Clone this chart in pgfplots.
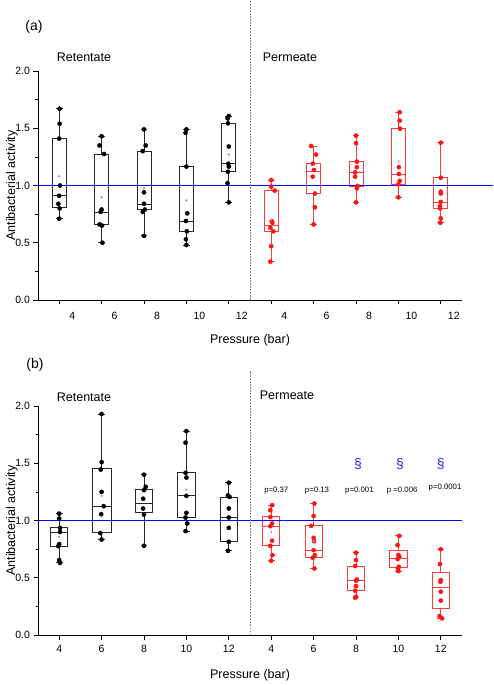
\documentclass[border=0pt]{standalone}
\usepackage{fontspec}
\setmainfont{Liberation Sans}
\usepackage{pgfplots}
\pgfplotsset{compat=1.18}
\usepgfplotslibrary{statistics}
\definecolor{myblue}{RGB}{40,40,235}
\definecolor{myred}{RGB}{255,20,20}
\definecolor{boxred}{RGB}{255,60,60}
\definecolor{boxblack}{RGB}{40,40,40}
\definecolor{meangray}{RGB}{150,150,150}
\definecolor{meanred}{RGB}{255,140,140}

\newcommand{\bx}[8]{\addplot[#1, line width=0.8pt, solid, mark=none,
  boxplot prepared={draw direction=y, draw position=#2, lower whisker=#3, lower quartile=#4,
  median=#5, upper quartile=#6, upper whisker=#7, box extend=#8, whisker extend=0.16}]
  coordinates {};}

\pgfplotsset{
  panel/.style={
    scale only axis, width=424pt, height=229pt,
    xmin=-0.5, xmax=9.5, ymin=0, ymax=2,
    axis x line*=bottom, axis y line*=left,
    axis line style={line width=0.8pt, -},
    xtick={0,...,9}, xticklabels={4,6,8,10,12,4,6,8,10,12},
    ytick={0,0.5,...,2}, minor y tick num=1,
    tick align=outside, major tick length=4.5pt, minor tick length=2.5pt,
    tick style={line width=0.7pt, black},
    y tick label style={/pgf/number format/fixed, /pgf/number format/fixed zerofill, /pgf/number format/precision=1},
    /pgf/number format/assume math mode=true,
    tick label style={font=\fontsize{10.5}{12}\selectfont},
    ylabel={Antibacterial activity}, xlabel={Pressure (bar)},
    every axis y label/.style={at={(axis description cs:-0.0613,0.5)}, rotate=90, anchor=center, font=\fontsize{12.5}{14}\selectfont},
    every axis x label/.style={at={(axis description cs:0.5,0)}, anchor=center, yshift=-40pt, font=\fontsize{12.5}{14}\selectfont},
    clip=false,
  },
  blk/.style={only marks, mark=*, mark size=2.1pt, black},
  rd/.style={only marks, mark=*, mark size=2.1pt, myred},
  mn/.style={only marks, mark=*, mark size=0.9pt, #1},
  refline/.style={color=blue, draw=blue, line width=1.5pt, mark=none, solid},
}

\begin{document}
\begin{tikzpicture}
\path[use as bounding box] (0pt,0pt) rectangle (494pt,685pt);

% ---------------- Panel (a)
\begin{axis}[panel, at={(38pt,385pt)}, anchor=south west,
  xticklabel style={xshift=13pt, yshift=-4pt}]
\bx{boxblack}{0}{0.713}{0.806}{0.91}{1.41}{1.674}{0.33}
\bx{boxblack}{1}{0.50}{0.66}{0.766}{1.275}{1.43}{0.33}
\bx{boxblack}{2}{0.56}{0.79}{0.838}{1.295}{1.49}{0.33}
\bx{boxblack}{3}{0.48}{0.60}{0.69}{1.165}{1.49}{0.33}
\bx{boxblack}{4}{0.853}{1.12}{1.194}{1.543}{1.607}{0.33}
\bx{boxred}{5}{0.335}{0.597}{0.649}{0.955}{1.048}{0.33}
\bx{boxred}{6}{0.66}{0.93}{1.12}{1.19}{1.345}{0.33}
\bx{boxred}{7}{0.853}{0.996}{1.115}{1.208}{1.435}{0.33}
\bx{boxred}{8}{0.897}{1.01}{1.10}{1.496}{1.64}{0.33}
\bx{boxred}{9}{0.675}{0.80}{0.856}{1.068}{1.374}{0.33}
\addplot[refline] table {
x y
-0.5 1
10.24 1
};
\addplot[blk] coordinates {
 (0.01,1.67) (0.01,1.54) (0,1.41) (0.02,1.00) (0,0.91) (-0.02,0.84) (0.01,0.80) (0,0.71)
 (1,1.43) (0.95,1.35) (1.06,1.275) (1,0.79) (0.98,0.77) (0.95,0.66) (1.01,0.65) (1.02,0.50)
 (2,1.49) (2.04,1.35) (1.97,1.30) (2,0.94) (2,0.84) (2.02,0.79) (1.97,0.77) (2,0.56)
 (3,1.49) (2.98,1.46) (3,1.165) (3.02,0.757) (2.99,0.69) (3.01,0.60) (2.99,0.53) (3,0.48)
 (4,1.607) (3.97,1.587) (3.98,1.543) (4,1.34) (3.99,1.19) (4,1.165) (3.98,1.12) (3.97,1.02) (4,0.853)
};
\addplot[mn=meangray] coordinates {(0,1.08) (1,0.897) (2,0.975) (3,0.87) (4,1.27)};
\addplot[rd] coordinates {
 (5,1.048) (5,0.99) (5.08,0.955) (5.01,0.69) (5.03,0.675) (4.98,0.63) (5.05,0.60) (5,0.47) (4.98,0.335)
 (5.94,1.345) (6.06,1.27) (5.98,1.19) (6.01,1.135) (5.98,1.077) (6.03,0.93) (6.03,0.81) (6,0.66)
 (7,1.435) (7,1.37) (7.02,1.208) (7.02,1.16) (6.98,1.115) (6.98,1.077) (7.04,0.996) (7.02,0.975) (7,0.853)
 (8.03,1.64) (8.03,1.566) (8.04,1.496) (8.01,1.16) (8.01,1.10) (8.03,1.04) (8,1.01) (8,0.897)
 (9,1.374) (9,1.068) (9,0.946) (9,0.93) (9,0.856) (8.98,0.82) (8.98,0.80) (9,0.713) (8.99,0.675)
};
\addplot[mn=meanred] coordinates {(5,0.70) (8,1.21)};
\draw[gray, dash pattern=on 1.5pt off 1.5pt, line width=0.6pt] (axis cs:4.5,0) -- (axis cs:4.5,2.62);
\end{axis}

% ---------------- Panel (b)
\begin{axis}[panel, at={(38pt,50pt)}, anchor=south west,
  xticklabel style={yshift=-2pt}]
\bx{boxblack}{0}{0.631}{0.776}{0.90}{0.936}{1.061}{0.41}
\bx{boxblack}{1}{0.834}{0.892}{1.125}{1.453}{1.927}{0.45}
\bx{boxblack}{2}{0.779}{1.07}{1.148}{1.273}{1.40}{0.41}
\bx{boxblack}{3}{0.907}{1.026}{1.215}{1.416}{1.78}{0.41}
\bx{boxblack}{4}{0.735}{0.814}{1.026}{1.20}{1.331}{0.41}
\bx{boxred}{5}{0.648}{0.779}{0.95}{1.032}{1.134}{0.41}
\bx{boxred}{6}{0.581}{0.677}{0.741}{0.953}{1.148}{0.41}
\bx{boxred}{7}{0.326}{0.387}{0.474}{0.602}{0.718}{0.41}
\bx{boxred}{8}{0.558}{0.587}{0.669}{0.735}{0.866}{0.41}
\bx{boxred}{9}{0.145}{0.233}{0.416}{0.549}{0.75}{0.41}
\addplot[refline] table {
x y
-0.5 1
9.5 1
};
\addplot[blk] coordinates {
 (0,1.06) (0,1.017) (0.02,0.936) (0.02,0.90) (0,0.794) (-0.02,0.776) (0,0.654) (0.02,0.63)
 (1,1.93) (1,1.51) (0.98,1.445) (1,1.25) (1.05,1.125) (0.99,1.055) (0.97,0.89) (1,0.834)
 (2,1.40) (2.04,1.294) (2,1.265) (1.98,1.19) (1.98,1.105) (2,1.052) (2,0.779)
 (3,1.78) (2.98,1.68) (2.98,1.416) (3,1.375) (3,1.215) (3,1.067) (2.98,1.026) (3.02,0.974) (2.98,0.907)
 (4,1.33) (3.98,1.22) (4.02,1.206) (4,1.105) (4,1.026) (4,0.936) (4,0.814) (3.98,0.735)
};
\addplot[mn=meangray] coordinates {(0,0.858) (1,1.215) (3,1.27)};
\addplot[rd] coordinates {
 (5.02,1.134) (4.98,1.09) (4.98,1.03) (5.02,0.974) (4.98,0.95) (5.02,0.823) (4.98,0.779) (5.03,0.698) (5,0.648)
 (6.02,1.148) (6,1.04) (5.94,0.953) (6,0.849) (6.01,0.82) (6,0.741) (6.03,0.698) (5.98,0.674) (6.02,0.581)
 (7,0.718) (7,0.654) (6.98,0.602) (7.02,0.485) (7,0.474) (7,0.427) (6.98,0.387) (7,0.334) (6.98,0.326)
 (8.02,0.866) (7.98,0.785) (8,0.698) (8.02,0.683) (7.98,0.663) (8.01,0.596) (7.99,0.581) (8,0.558)
 (9,0.75) (8.98,0.619) (9,0.48) (8.99,0.465) (9,0.378) (9,0.30) (8.97,0.166) (9.03,0.145)
};
\addplot[mn=meanred] coordinates {(5,0.90) (6,0.82)};
\draw[gray, dash pattern=on 1.5pt off 1.5pt, line width=0.6pt] (axis cs:4.5,0) -- (axis cs:4.5,2.31);
\begin{scope}[font=\fontsize{7.8}{9}\selectfont]
\node at (axis cs:5.12,1.26) {p=0.37};
\node at (axis cs:6.08,1.26) {p=0.13};
\node at (axis cs:7.08,1.26) {p=0.001};
\node at (axis cs:8.09,1.26) {p =0.006};
\node at (axis cs:9.1,1.29) {p=0.0001};
\end{scope}
\begin{scope}[font=\fontsize{14}{16}\selectfont, text=myblue]
\node at (axis cs:7.05,1.49) {\S};
\node at (axis cs:8.04,1.49) {\S};
\node at (axis cs:9.0,1.49) {\S};
\end{scope}
\end{axis}

% ---------------- Texts
\node[font=\fontsize{14}{16}\selectfont] at (34pt,658pt) {(a)};
\node[font=\fontsize{14}{16}\selectfont] at (35pt,320pt) {(b)};
\node[font=\fontsize{12.5}{14}\selectfont] at (84pt,628pt) {Retentate};
\node[font=\fontsize{12.5}{14}\selectfont] at (290pt,628pt) {Permeate};
\node[font=\fontsize{12.5}{14}\selectfont] at (84pt,288pt) {Retentate};
\node[font=\fontsize{12.5}{14}\selectfont] at (287pt,290pt) {Permeate};
\end{tikzpicture}
\end{document}
